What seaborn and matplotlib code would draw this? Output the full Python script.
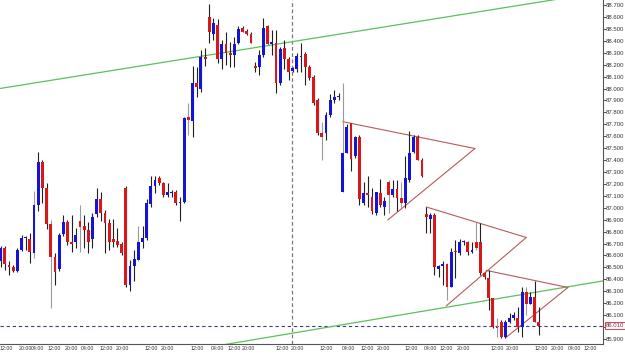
import numpy as np
import pandas as pd
import matplotlib
matplotlib.use("Agg")
import matplotlib.pyplot as plt
import matplotlib.transforms as mtransforms
import seaborn as sns

# ---------------- data ----------------
opens = [86.55, 86.66, 86.52, 86.50, 86.47, 86.65, 86.745, 86.74, 86.62, 87.02,
         87.38, 87.17, 86.86, 86.59, 86.49, 86.78, 86.88, 86.71, 86.71, 86.89,
         86.85, 86.81, 86.74, 86.95, 87.07, 86.96, 86.87, 86.74, 86.72, 86.70,
         87.17, 86.35, 86.51, 86.56, 86.71, 86.75, 87.03, 87.18, 87.25, 87.21,
         87.11, 87.12, 87.13, 87.04, 87.05, 87.76, 87.73, 88.05, 88.00, 88.26,
         88.60, 88.46, 88.53, 88.25, 88.37, 88.30, 88.28, 88.38, 88.51, 88.48,
         88.46, 88.19, 88.18, 88.28, 88.52, 88.37, 88.38, 88.05, 88.34, 88.25,
         88.15, 88.16, 88.26, 88.29, 88.18, 88.10, 87.90, 87.63, 87.63, 87.78,
         87.90, 87.93, 87.13, 87.46, 87.71, 87.43, 87.59, 87.04, 87.12, 87.09,
         86.96, 87.12, 87.01, 87.22, 87.11, 87.16, 87.08, 87.04, 87.23, 87.47,
         87.59, 87.40, 86.95, 86.91, 86.94, 86.49, 86.51, 86.53, 86.34, 86.64,
         86.62, 86.71, 86.71, 86.63, 86.71, 86.71, 86.45, 86.41, 86.24, 86.00,
         86.04, 85.92, 86.04, 86.08, 86.08, 86.00, 86.29, 86.19, 86.25, 86.04]
highs = [86.68, 86.68, 86.55, 86.52, 86.66, 86.77, 86.76, 86.79, 87.14, 87.47,
         87.40, 87.21, 86.90, 86.62, 86.79, 86.94, 86.90, 86.94, 86.83, 87.02,
         86.94, 86.88, 86.96, 87.17, 87.13, 86.98, 86.91, 86.91, 86.83, 86.71,
         87.18, 86.56, 86.65, 86.85, 86.85, 87.07, 87.27, 87.27, 87.27, 87.22,
         87.21, 87.15, 87.15, 87.09, 87.76, 87.88, 88.19, 88.18, 88.32, 88.34,
         88.71, 88.59, 88.58, 88.41, 88.47, 88.39, 88.43, 88.52, 88.52, 88.50,
         88.47, 88.22, 88.32, 88.59, 88.53, 88.49, 88.49, 88.35, 88.41, 88.26,
         88.18, 88.30, 88.38, 88.31, 88.20, 88.11, 87.92, 87.72, 87.80, 87.95,
         87.99, 87.96, 88.05, 87.70, 87.71, 87.60, 87.61, 87.22, 87.27, 87.17,
         87.13, 87.24, 87.09, 87.23, 87.23, 87.23, 87.22, 87.43, 87.64, 87.61,
         87.61, 87.42, 87.01, 86.96, 86.96, 86.52, 86.55, 86.54, 86.66, 86.73,
         86.74, 86.73, 86.72, 86.71, 86.88, 86.87, 86.46, 86.48, 86.24, 86.08,
         86.06, 86.06, 86.12, 86.13, 86.17, 86.34, 86.34, 86.29, 86.39, 86.17]
lows = [86.50, 86.48, 86.44, 86.46, 86.46, 86.64, 86.65, 86.54, 86.58, 86.97,
        87.04, 86.82, 86.16, 86.35, 86.47, 86.76, 86.69, 86.63, 86.66, 86.63,
        86.66, 86.62, 86.66, 86.92, 86.89, 86.62, 86.65, 86.67, 86.67, 86.60,
        86.34, 86.30, 86.39, 86.55, 86.66, 86.73, 87.01, 87.12, 87.19, 87.09,
        87.09, 87.09, 87.02, 86.89, 87.04, 87.61, 87.59, 87.93, 87.97, 88.19,
        88.38, 88.41, 88.21, 88.16, 88.20, 88.18, 88.18, 88.37, 88.47, 88.45,
        88.38, 88.14, 88.11, 88.26, 88.37, 88.28, 87.96, 88.03, 88.16, 88.07,
        88.14, 88.14, 88.14, 88.03, 88.07, 87.86, 87.61, 87.40, 87.57, 87.76,
        87.88, 87.90, 87.13, 87.46, 87.31, 87.42, 87.02, 87.02, 87.01, 86.95,
        86.94, 87.01, 86.94, 86.96, 87.09, 86.97, 87.01, 87.00, 87.22, 87.46,
        87.40, 87.26, 86.79, 86.79, 86.44, 86.42, 86.35, 86.23, 86.34, 86.41,
        86.60, 86.69, 86.60, 86.62, 86.65, 86.44, 86.40, 86.14, 85.99, 85.92,
        85.91, 85.91, 86.03, 86.06, 85.96, 85.92, 86.10, 86.19, 86.04, 85.93]
closes = [86.66, 86.53, 86.50, 86.47, 86.65, 86.75, 86.75, 86.63, 87.02, 87.38,
          87.17, 86.86, 86.59, 86.46, 86.77, 86.88, 86.71, 86.70, 86.77, 86.84,
          86.81, 86.71, 86.92, 87.07, 86.96, 86.87, 86.71, 86.71, 86.69, 86.62,
          86.35, 86.51, 86.57, 86.71, 86.75, 87.04, 87.18, 87.23, 87.21, 87.11,
          87.13, 87.13, 87.04, 87.05, 87.75, 87.74, 88.05, 88.01, 88.26, 88.25,
          88.47, 88.55, 88.25, 88.37, 88.30, 88.28, 88.37, 88.50, 88.47, 88.46,
          88.38, 88.17, 88.28, 88.51, 88.37, 88.39, 88.05, 88.33, 88.25, 88.14,
          88.17, 88.27, 88.27, 88.18, 88.09, 87.88, 87.63, 87.59, 87.78, 87.90,
          87.93, 87.93, 87.46, 87.68, 87.41, 87.59, 87.07, 87.12, 87.11, 86.97,
          87.13, 87.02, 87.06, 87.11, 87.16, 87.08, 87.04, 87.25, 87.46, 87.59,
          87.40, 87.27, 86.92, 86.94, 86.50, 86.51, 86.53, 86.34, 86.63, 86.63,
          86.71, 86.72, 86.63, 86.65, 86.66, 86.45, 86.42, 86.24, 86.00, 85.99,
          85.92, 86.04, 86.08, 86.10, 86.00, 86.29, 86.19, 86.25, 86.04, 86.01]
grey_wick_bars = [8, 12, 19, 33, 45, 77, 82, 93, 96, 107, 114, 119, 126]

# trend lines: (bar index, price) end points
upper_channel_x = [-0.2, 144.4]
upper_channel_y = [88.00, 88.81]
lower_channel_x = [53.5, 144.4]
lower_channel_y = [85.852, 86.387]
tri_upper_x = [[82.0, 113.7], [102.0, 126.0], [116.4, 136.0]]
tri_upper_y = [[87.722, 87.497], [87.007, 86.751], [86.475, 86.332]]
tri_lower_x = [[92.8, 113.7], [106.8, 126.0], [121.0, 136.0]]
tri_lower_y = [[86.898, 87.497], [86.177, 86.751], [85.909, 86.332]]

separator_bar = 69.8
last_price = 86.010

time_tick_pos = [1.3, 5.8, 8.9, 12.8, 16.9, 20.9, 25.3, 29.1, 36.0, 39.9,
                 47.1, 51.9, 56.0, 59.5, 67.5, 71.1, 78.0, 83.3, 87.8, 91.7,
                 98.4, 103.0, 106.8, 110.9, 119.0, 122.6, 129.6, 133.4, 137.5, 141.3]
time_tick_labels = ["12:00", "20:00", "04:00", "12:00", "20:00", "04:00", "12:00", "20:00",
                    "12:00", "20:00", "12:00", "04:00", "12:00", "20:00", "12:00", "20:00",
                    "12:00", "04:00", "12:00", "20:00", "12:00", "04:00", "12:00", "20:00",
                    "12:00", "20:00", "12:00", "20:00", "04:00", "12:00"]
price_ticks = [round(85.9 + 0.1 * k, 1) for k in range(29)]

# ---------------- style ----------------
sns.set_style("white")
plt.rcParams['font.family'] = ['Liberation Sans', 'DejaVu Sans']

BULL = "#1414d8"
BEAR = "#d81818"
WICK = "#202020"
WICK_GREY = "#9a9a9a"
GREEN = "#5cc05c"
TRI = "#b85a5a"

df = pd.DataFrame({"open": opens, "high": highs, "low": lows, "close": closes})
df["idx"] = np.arange(len(df))
df["bull"] = df["close"] >= df["open"]
df["bottom"] = df[["open", "close"]].min(axis=1)
df["height"] = (df["close"] - df["open"]).abs().clip(lower=0.009)

fig = plt.figure(figsize=(6.25, 3.55), dpi=100)
ax = fig.add_axes([0, 11 / 355, 603 / 625, 344 / 355])
ax.set_xlim(-0.17, 144.4)
ax.set_ylim(85.858, 88.742)

# channel and triangle lines
sns.lineplot(x=upper_channel_x, y=upper_channel_y, ax=ax, color=GREEN, lw=0.9, zorder=1)
sns.lineplot(x=lower_channel_x, y=lower_channel_y, ax=ax, color=GREEN, lw=0.9, zorder=1)
for xs, ys in zip(tri_upper_x, tri_upper_y):
    sns.lineplot(x=xs, y=ys, ax=ax, color=TRI, lw=0.8, zorder=1)
for xs, ys in zip(tri_lower_x, tri_lower_y):
    sns.lineplot(x=xs, y=ys, ax=ax, color=TRI, lw=0.8, zorder=1)

ax.axvline(separator_bar, color="#7a7a7a", lw=0.9, ls=(0, (3, 2)), zorder=0)
ax.axhline(last_price, color="#3c3c8c", lw=0.8, ls=(0, (3, 2.5)), zorder=0)

# candles
wick_cols = [WICK_GREY if i in grey_wick_bars else WICK for i in df["idx"]]
ax.vlines(df["idx"], df["low"], df["high"], colors=wick_cols, lw=0.8, zorder=2)
ax.bar(df["idx"], df["height"], bottom=df["bottom"], width=0.68,
       color=np.where(df["bull"], BULL, BEAR), linewidth=0, zorder=3)

# axes decoration
for s in ["left", "top"]:
    ax.spines[s].set_visible(False)
for s in ["right", "bottom"]:
    ax.spines[s].set_color("#555555")
    ax.spines[s].set_linewidth(0.8)

ax.yaxis.tick_right()
ax.set_yticks(price_ticks)
ax.set_yticklabels([f"{v:.3f}" if abs(v - 86.0) > 1e-6 else "" for v in price_ticks])
ax.tick_params(axis="y", direction="out", length=2.0, width=0.6, pad=0.3,
               labelsize=4.3, colors="#333333")
ax.set_xticks(time_tick_pos)
ax.set_xticklabels(time_tick_labels)
ax.tick_params(axis="x", direction="out", length=0, pad=1.4, labelsize=3.8,
               colors="#333333")
ax.set_xlabel("")
ax.set_ylabel("")
ax.grid(False)

trans = mtransforms.blended_transform_factory(ax.transAxes, ax.transData)
ax.text(1.005, last_price, f"{last_price:.3f}", transform=trans, ha="left", va="center",
        fontsize=4.3, color="#8a2a4a", clip_on=False, zorder=10,
        bbox=dict(boxstyle="square,pad=0.18", facecolor="white", edgecolor="#d04848", lw=0.7))

fig.savefig("out.png", dpi=100, facecolor="white")
